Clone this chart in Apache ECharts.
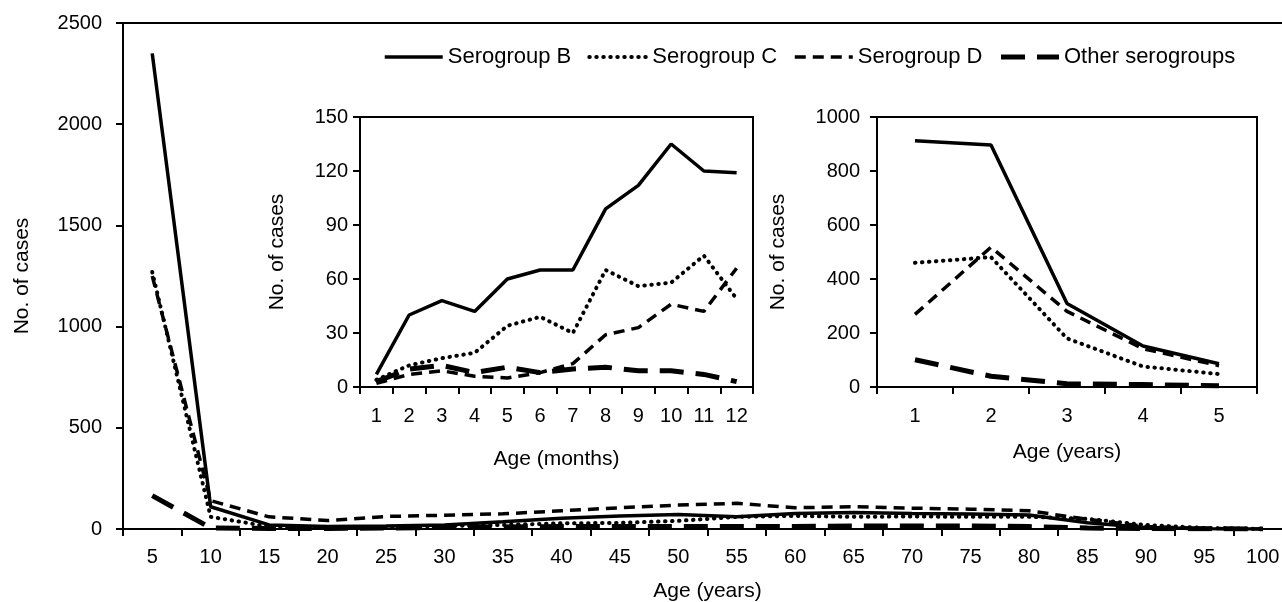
<!DOCTYPE html>
<html><head><meta charset="utf-8">
<script src="https://cdn.jsdelivr.net/npm/echarts@6/dist/echarts.min.js"></script>
<style>html,body{margin:0;padding:0;background:#fff}#c{width:1282px;height:602px}</style>
</head><body><div id="c"></div><script>
const seriesNames = ['Serogroup B', 'Serogroup C', 'Serogroup D', 'Other serogroups'];

// Main chart: age in years (5-year groups)
const mainAges = ['5','10','15','20','25','30','35','40','45','50','55','60','65','70','75','80','85','90','95','100'];
const mainB     = [2350, 110, 20, 12, 15, 20, 36, 53, 64, 72, 61, 77, 81, 77, 74, 69, 31, 8, 1, 0];
const mainC     = [1270, 60, 12, 8, 10, 15, 20, 28, 30, 40, 60, 65, 60, 62, 60, 60, 50, 20, 5, 1];
const mainD     = [1250, 140, 60, 42, 62, 68, 75, 90, 105, 118, 127, 105, 110, 103, 98, 90, 48, 12, 3, 0];
const mainOther = [165, 5, 3, 3, 5, 8, 10, 12, 12, 12, 12, 12, 15, 15, 15, 12, 5, 2, 1, 0];
const mainYTicks = [0, 500, 1000, 1500, 2000, 2500];

// Inset 1: age in months
const months = ['1','2','3','4','5','6','7','8','9','10','11','12'];
const monB     = [7, 40, 48, 42, 60, 65, 65, 99, 112, 135, 120, 119];
const monC     = [4, 12, 16, 19, 34, 39, 30, 65, 56, 58, 73, 49];
const monD     = [2, 7, 9, 6, 5, 8, 13, 29, 33, 46, 42, 66];
const monOther = [3, 10, 12, 8, 11, 8, 10, 11, 9, 9, 7, 3];
const monYTicks = [0, 30, 60, 90, 120, 150];

// Inset 2: age in years 1-5
const years = ['1','2','3','4','5'];
const yrB     = [912, 896, 309, 152, 86];
const yrC     = [460, 481, 180, 76, 48];
const yrD     = [269, 518, 280, 142, 79];
const yrOther = [101, 40, 12, 9, 5];
const yrYTicks = [0, 200, 400, 600, 800, 1000];

const FONT = "'Liberation Sans', Arial, sans-serif";
const lineStyles = [
  {color:'#000', width:3.5, type:'solid'},
  {color:'#000', width:4, type:[0.5, 6.5], cap:'round'},
  {color:'#000', width:3.5, type:[11, 7]},
  {color:'#000', width:5, type:[24, 12]}
];

function mkSeries(dataSets, idx) {
  return dataSets.map((d, i) => ({
    name: seriesNames[i], type: 'line', xAxisIndex: idx, yAxisIndex: idx,
    data: d, symbol: 'none', showSymbol: false, lineStyle: lineStyles[i],
    itemStyle: {color:'#000'}, z: 3 + idx * 2, silent: true
  }));
}

function xAx(idx, cats, name, gap, margin) {
  return {
    type:'category', gridIndex: idx, data: cats, boundaryGap: true,
    name: name, nameLocation:'middle', nameGap: gap,
    nameTextStyle:{fontFamily:FONT, fontSize:21, color:'#000'},
    axisLine:{show:true, lineStyle:{color:'#000', width:2}},
    axisTick:{show:true, alignWithLabel:false, length:7, lineStyle:{color:'#000', width:2}},
    axisLabel:{interval:0, margin:margin, fontFamily:FONT, fontSize:20, color:'#000'},
    splitLine:{show:false}
  };
}
function yAx(idx, ticks, name, gap, margin) {
  return {
    type:'value', gridIndex: idx, min: ticks[0], max: ticks[ticks.length-1],
    interval: ticks[1] - ticks[0],
    name: name, nameLocation:'middle', nameGap: gap,
    nameTextStyle:{fontFamily:FONT, fontSize:21, color:'#000'},
    axisLine:{show:true, lineStyle:{color:'#000', width:2}},
    axisTick:{show:true, length:7, lineStyle:{color:'#000', width:2}},
    axisLabel:{margin: margin, fontFamily:FONT, fontSize:20, color:'#000', formatter: v => String(v)},
    splitLine:{show:false}
  };
}

const legendData = seriesNames.map((n, i) => ({
  name: n,
  itemStyle: {color:'transparent', borderColor:'transparent', borderWidth:0, opacity:0},
  lineStyle: Object.assign({}, lineStyles[i])
}));

const chart = echarts.init(document.getElementById('c'), null, {renderer:'canvas'});
chart.setOption({
  animation: false,
  backgroundColor: '#fff',
  textStyle: {fontFamily: FONT, color:'#000'},
  legend: {
    data: legendData, left: 383, top: 46, padding: 0, itemWidth: 58, itemHeight: 14, itemGap: 16,
    textStyle: {fontFamily: FONT, fontSize: 22, color: '#000'},
    selectedMode: false
  },
  grid: [
    {left:123, top:23, width:1169, height:506, show:true, borderColor:'#000', borderWidth:2, backgroundColor:'transparent', z:0, outerBoundsMode:'none', containLabel:false},
    {left:360, top:117, width:393, height:270, show:true, borderColor:'#000', borderWidth:2, backgroundColor:'#fff', z:2, outerBoundsMode:'none', containLabel:false},
    {left:877, top:117, width:380, height:270, show:true, borderColor:'#000', borderWidth:2, backgroundColor:'#fff', z:2, outerBoundsMode:'none', containLabel:false}
  ],
  xAxis: [
    xAx(0, mainAges, 'Age (years)', 52, 18),
    xAx(1, months, 'Age (months)', 62, 19),
    xAx(2, years, 'Age (years)', 55, 19)
  ],
  yAxis: [
    yAx(0, mainYTicks, 'No. of cases', 90, 21),
    yAx(1, monYTicks, 'No. of cases', 72, 12),
    yAx(2, yrYTicks, 'No. of cases', 88, 17)
  ],
  series: [].concat(
    mkSeries([mainB, mainC, mainD, mainOther], 0),
    mkSeries([monB, monC, monD, monOther], 1),
    mkSeries([yrB, yrC, yrD, yrOther], 2)
  )
});
</script></body></html>
